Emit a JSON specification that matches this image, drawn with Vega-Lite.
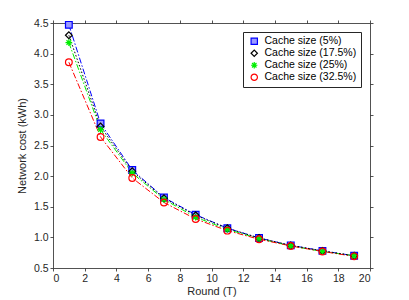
{
  "$schema": "https://vega.github.io/schema/vega-lite/v6.json",
  "width": 317,
  "height": 245,
  "autosize": {"type": "none"},
  "padding": {"left": 53, "top": 23, "right": 39, "bottom": 32},
  "background": "white",
  "config": {
    "font": "Liberation Sans",
    "view": {"stroke": null},
    "axis": {
      "grid": false,
      "domainColor": "#262626",
      "domainWidth": 0.8,
      "tickColor": "#262626",
      "tickWidth": 0.8,
      "tickSize": 3,
      "labelColor": "#262626",
      "labelFontSize": 10.5,
      "titleColor": "#262626",
      "titleFontSize": 11,
      "titleFontWeight": "normal"
    }
  },
  "data": {
    "values": [
      {"round": 1, "cache": "Cache size (5%)", "cost": 4.47},
      {"round": 3, "cache": "Cache size (5%)", "cost": 2.86},
      {"round": 5, "cache": "Cache size (5%)", "cost": 2.1},
      {"round": 7, "cache": "Cache size (5%)", "cost": 1.65},
      {"round": 9, "cache": "Cache size (5%)", "cost": 1.37},
      {"round": 11, "cache": "Cache size (5%)", "cost": 1.15},
      {"round": 13, "cache": "Cache size (5%)", "cost": 0.99},
      {"round": 15, "cache": "Cache size (5%)", "cost": 0.87},
      {"round": 17, "cache": "Cache size (5%)", "cost": 0.78},
      {"round": 19, "cache": "Cache size (5%)", "cost": 0.7},
      {"round": 1, "cache": "Cache size (17.5%)", "cost": 4.3},
      {"round": 3, "cache": "Cache size (17.5%)", "cost": 2.81},
      {"round": 5, "cache": "Cache size (17.5%)", "cost": 2.08},
      {"round": 7, "cache": "Cache size (17.5%)", "cost": 1.64},
      {"round": 9, "cache": "Cache size (17.5%)", "cost": 1.36},
      {"round": 11, "cache": "Cache size (17.5%)", "cost": 1.15},
      {"round": 13, "cache": "Cache size (17.5%)", "cost": 0.99},
      {"round": 15, "cache": "Cache size (17.5%)", "cost": 0.87},
      {"round": 17, "cache": "Cache size (17.5%)", "cost": 0.78},
      {"round": 19, "cache": "Cache size (17.5%)", "cost": 0.7},
      {"round": 1, "cache": "Cache size (25%)", "cost": 4.18},
      {"round": 3, "cache": "Cache size (25%)", "cost": 2.76},
      {"round": 5, "cache": "Cache size (25%)", "cost": 2.05},
      {"round": 7, "cache": "Cache size (25%)", "cost": 1.62},
      {"round": 9, "cache": "Cache size (25%)", "cost": 1.33},
      {"round": 11, "cache": "Cache size (25%)", "cost": 1.13},
      {"round": 13, "cache": "Cache size (25%)", "cost": 0.98},
      {"round": 15, "cache": "Cache size (25%)", "cost": 0.86},
      {"round": 17, "cache": "Cache size (25%)", "cost": 0.77},
      {"round": 19, "cache": "Cache size (25%)", "cost": 0.7},
      {"round": 1, "cache": "Cache size (32.5%)", "cost": 3.86},
      {"round": 3, "cache": "Cache size (32.5%)", "cost": 2.64},
      {"round": 5, "cache": "Cache size (32.5%)", "cost": 1.97},
      {"round": 7, "cache": "Cache size (32.5%)", "cost": 1.57},
      {"round": 9, "cache": "Cache size (32.5%)", "cost": 1.3},
      {"round": 11, "cache": "Cache size (32.5%)", "cost": 1.11},
      {"round": 13, "cache": "Cache size (32.5%)", "cost": 0.97},
      {"round": 15, "cache": "Cache size (32.5%)", "cost": 0.86},
      {"round": 17, "cache": "Cache size (32.5%)", "cost": 0.77},
      {"round": 19, "cache": "Cache size (32.5%)", "cost": 0.69}
    ]
  },
  "resolve": {"axis": {"x": "independent", "y": "independent"}},
  "layer": [
    {
      "transform": [{"filter": {"not": {"field": "cache", "equal": "Cache size (17.5%)"}}}],
      "mark": {"type": "line", "strokeWidth": 1, "strokeDash": [6, 2, 1.5, 2]},
      "encoding": {
        "x": {
          "field": "round", "type": "quantitative",
          "scale": {"domain": [0, 20], "nice": false},
          "axis": {"values": [0,2,4,6,8,10,12,14,16,18,20], "title": "Round (T)", "labelPadding": 2, "titlePadding": 2}
        },
        "y": {
          "field": "cost", "type": "quantitative",
          "scale": {"domain": [0.5, 4.5], "nice": false, "zero": false},
          "axis": {"values": [0.5,1,1.5,2,2.5,3,3.5,4,4.5], "format": ".1f", "title": "Network cost (kWh)", "labelPadding": 2, "titlePadding": 6}
        },
        "stroke": {
          "field": "cache", "type": "nominal",
          "scale": {"domain": ["Cache size (5%)", "Cache size (17.5%)", "Cache size (25%)", "Cache size (32.5%)"], "range": ["#0000ff", "#000000", "#00ee00", "#ff0000"]},
          "legend": {"title": null}
        }
      }
    },
    {
      "transform": [{"filter": {"field": "cache", "equal": "Cache size (17.5%)"}}],
      "mark": {"type": "line", "strokeWidth": 1, "strokeDash": [1.5, 2]},
      "encoding": {
        "x": {"field": "round", "type": "quantitative", "axis": null},
        "y": {"field": "cost", "type": "quantitative", "axis": null},
        "stroke": {"field": "cache", "type": "nominal", "legend": {"title": null}}
      }
    },
    {
      "mark": {"type": "point", "strokeWidth": 1.2, "size": 45, "opacity": 1},
      "encoding": {
        "x": {
          "field": "round", "type": "quantitative",
          "axis": {"orient": "top", "values": [0,2,4,6,8,10,12,14,16,18,20], "labels": false, "title": null}
        },
        "y": {
          "field": "cost", "type": "quantitative",
          "axis": {"orient": "right", "values": [0.5,1,1.5,2,2.5,3,3.5,4,4.5], "labels": false, "title": null}
        },
        "stroke": {
          "field": "cache", "type": "nominal",
          "legend": {
            "title": null,
            "orient": "top-right",
            "offset": 9,
            "strokeColor": "#262626",
            "fillColor": "white",
            "padding": 4,
            "labelFontSize": 10.5,
            "labelColor": "#000000",
            "labelOffset": 5,
            "symbolOffset": 2,
            "symbolSize": 40,
            "symbolStrokeWidth": 1.2,
            "rowPadding": 0
          }
        },
        "shape": {
          "field": "cache", "type": "nominal",
          "scale": {"domain": ["Cache size (5%)", "Cache size (17.5%)", "Cache size (25%)", "Cache size (32.5%)"], "range": ["square", "diamond", "M0,-1L0,1M-1,0L1,0M-0.7,-0.7L0.7,0.7M-0.7,0.7L0.7,-0.7", "circle"]},
          "legend": {"title": null}
        },
        "fill": {
          "field": "cache", "type": "nominal",
          "scale": {"domain": ["Cache size (5%)", "Cache size (17.5%)", "Cache size (25%)", "Cache size (32.5%)"], "range": ["#9a9aff", "transparent", "#00ee00", "transparent"]},
          "legend": {"title": null}
        }
      }
    }
  ]
}
